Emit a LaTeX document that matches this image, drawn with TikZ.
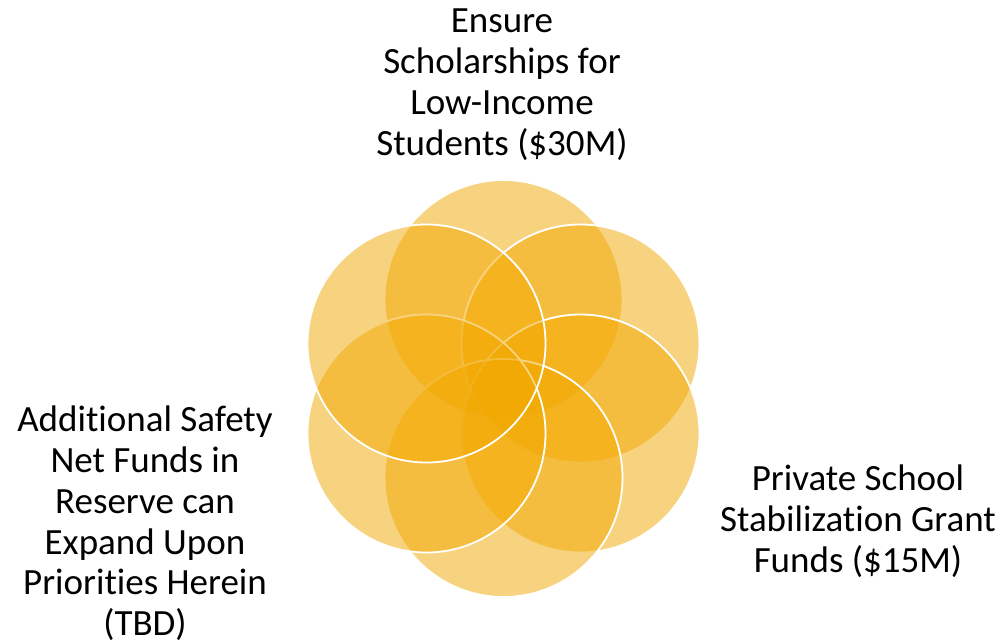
\documentclass[tikz,border=0pt]{standalone}
\usepackage{fontspec}
\setmainfont{Carlito}[Ligatures=NoCommon]
\definecolor{gold}{RGB}{242,168,0}
\begin{document}
\begin{tikzpicture}[x=1pt,y=-1pt,
  petal/.style={circle,minimum size=238pt,inner sep=0pt,fill=gold,fill opacity=0.5,draw=white,draw opacity=1,line width=1.8pt},
  label/.style={align=center,inner sep=0pt,font=\fontsize{37}{40.8}\selectfont,text=black,anchor=base}]
\useasboundingbox (0,0) rectangle (1005,643);
\node[petal] (c1) at (503.5,299) {};
\node[petal] (c2) at (580.5,343.5) {};
\node[petal] (c3) at (580.5,433.5) {};
\node[petal] (c4) at (503.5,478) {};
\node[petal] (c5) at (426.5,433.5) {};
\node[petal] (c6) at (426.5,343.5) {};
\node[label] (t1) at (502,155) {Ensure\\Scholarships for\\Low-Income\\Students (\$30M)};
\node[label] (t2) at (858,572.5) {Private School\\Stabilization Grant\\Funds (\$15M)};
\node[label] (t3) at (145,635.7) {Additional Safety\\Net Funds in\\Reserve can\\Expand Upon\\Priorities Herein\\(TBD)};
\end{tikzpicture}
\end{document}
